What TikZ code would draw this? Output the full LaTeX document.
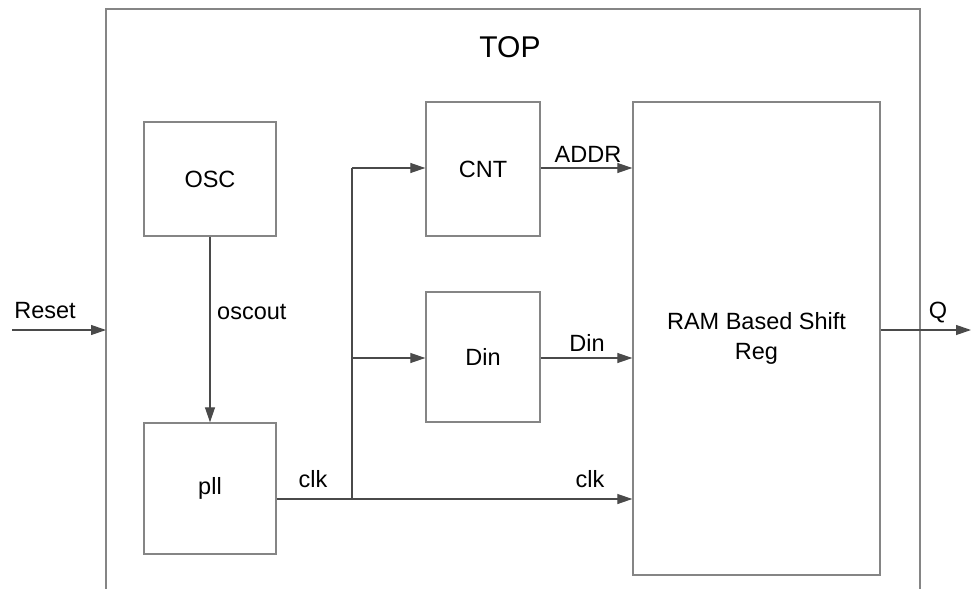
\documentclass[tikz,border=0pt]{standalone}
\usepackage{fontspec}
\setmainfont{Liberation Sans}
\usetikzlibrary{arrows.meta}
\definecolor{boxline}{HTML}{858585}
\definecolor{wire}{HTML}{4A4A4A}
\begin{document}
\begin{tikzpicture}[x=1pt,y=-1pt,
  font=\fontsize{23.5}{30}\selectfont,
  block/.style={draw=boxline, line width=1.4pt, rectangle, inner sep=0pt, align=center},
  wirestyle/.style={draw=wire, line width=1.2pt},
  sig/.style={wirestyle, -{Triangle[length=15pt,width=10pt]}},
  lbl/.style={anchor=base, inner sep=0pt}]
\useasboundingbox (0,0) rectangle (972,589);

% enclosing TOP module, open at the bottom
\draw[boxline, line width=1.8pt] (106,589) -- (106,9) -- (920,9) -- (920,589);
\node[lbl, font=\fontsize{30}{34}\selectfont] (toplbl) at (510,57) {TOP};

% blocks
\node[block, minimum width=132pt, minimum height=114pt] (osc) at (210,179) {OSC};
\node[block, minimum width=132pt, minimum height=131pt] (pll) at (210,488.5) {pll};
\node[block, minimum width=114pt, minimum height=134pt] (cnt) at (483,169) {CNT};
\node[block, minimum width=114pt, minimum height=130pt] (din) at (483,357) {Din};
\node[block, minimum width=247pt, minimum height=473pt] (ram) at (756.5,338.5) {RAM Based Shift\\Reg};

% signal rows and free ends
\coordinate (rstin) at (12,330);
\coordinate (rstpin) at (106,330);
\coordinate (qout) at (971,330);
\coordinate (clkrow) at (0,499);
\coordinate (br) at (352,499);
\coordinate (addrrow) at (0,168);
\coordinate (dinrow) at (0,358);

% external ports
\draw[sig] (rstin) -- (rstpin);
\node[lbl] (rstlbl) at (45,318) {Reset};
\draw[sig] (ram.east |- qout) -- (qout);
\node[lbl] (qlbl) at (938,318) {Q};

% oscillator to pll
\draw[sig] (osc.south) -- (pll.north);
\node[anchor=base west, inner sep=0pt] (osclbl) at (217,319) {oscout};

% clock distribution
\draw[sig] (pll.east |- clkrow) -- (ram.west |- clkrow);
\draw[wirestyle] (br) -- (br |- addrrow);
\draw[sig] (br |- addrrow) -- (cnt.west |- addrrow);
\draw[sig] (br |- dinrow) -- (din.west |- dinrow);
\node[lbl] (clklbla) at (313,487) {clk};
\node[lbl] (clklblb) at (590,487) {clk};

% data paths into the shift register
\draw[sig] (cnt.east |- addrrow) -- (ram.west |- addrrow);
\node[lbl] (addrlbl) at (588,162) {ADDR};
\draw[sig] (din.east |- dinrow) -- (ram.west |- dinrow);
\node[lbl] (dinlbl) at (587,351) {Din};
\end{tikzpicture}
\end{document}
